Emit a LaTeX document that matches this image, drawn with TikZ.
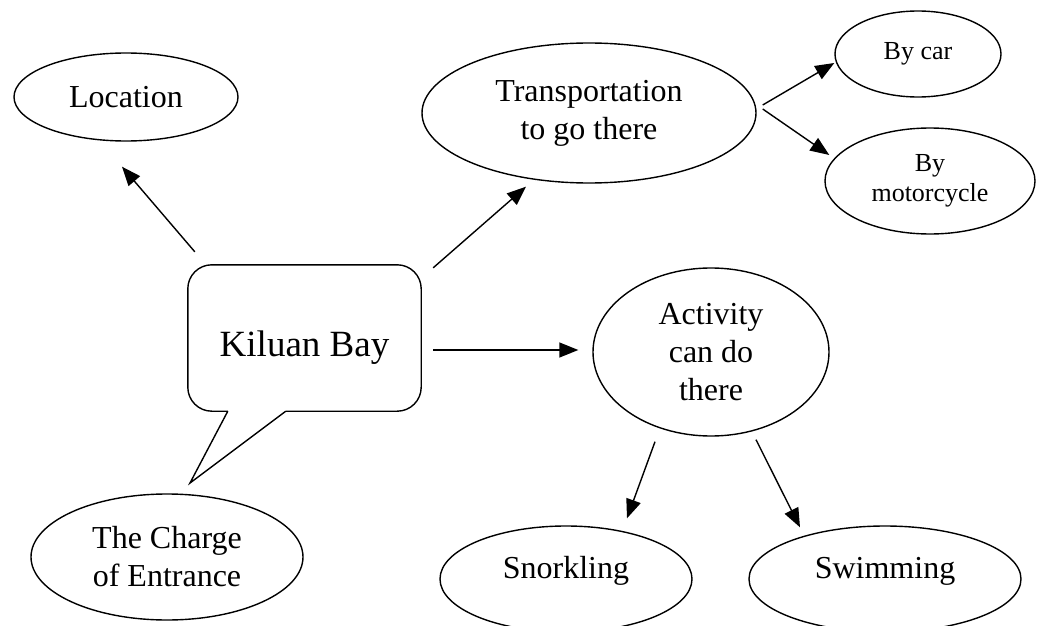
\documentclass[tikz,border=0pt]{standalone}
\usepackage{fontspec}
\setmainfont{Liberation Serif}
\usetikzlibrary{shapes.geometric,arrows.meta}
\begin{document}
\begin{tikzpicture}[x=1pt,y=-1pt,
  bubble/.style={draw, ellipse, line width=1.4pt, inner sep=0pt},
  big/.style={font=\fontsize{32}{38}\selectfont, align=center},
  small/.style={font=\fontsize{26}{30}\selectfont, align=center},
  outline/.style={line width=1.4pt},
  arr/.style={line width=1.4pt, -{Triangle[length=19pt,width=15pt]}}]
\useasboundingbox (0,0) rectangle (1037,626);
\clip (0,0) rectangle (1037,626);

\node[bubble,big,minimum width=224pt,minimum height=88pt] (loc) at (126,97) {Location};
\node[bubble,big,minimum width=334pt,minimum height=140pt] (trans) at (589,113) {Transportation\\to go there};
\node[bubble,small,minimum width=166pt,minimum height=86pt] (car) at (918,54) {By car};
\node[bubble,small,minimum width=210pt,minimum height=106pt] (moto) at (930,181) {By\\motorcycle};
\node[minimum width=233pt,minimum height=146pt,inner sep=0pt,
      label={[font=\fontsize{37}{44}\selectfont,yshift=-10pt]center:Kiluan Bay}] (kb) at (304.5,338) {};
\node[bubble,big,minimum width=236pt,minimum height=168pt] (act) at (711,352) {Activity\\can do\\there};
\node[bubble,big,minimum width=272pt,minimum height=126pt] (chg) at (167,557) {The Charge\\of Entrance};
\node[bubble,minimum width=252pt,minimum height=106pt,
      label={[big,yshift=8pt]center:Snorkling}] (snork) at (566,579) {};
\node[bubble,minimum width=272pt,minimum height=106pt,
      label={[big,yshift=8pt]center:Swimming}] (swim) at (885,579) {};

% speech bubble
\coordinate (tip) at (190,483);
\draw[outline, rounded corners=24pt] ([xshift=98pt]kb.south west) -- (kb.south east) -- (kb.north east)
   -- (kb.north west) -- (kb.south west) -- ([xshift=40pt]kb.south west);
\draw[outline, line join=miter] ([xshift=40pt]kb.south west) -- (tip) -- ([xshift=98pt]kb.south west);

% connectors
\draw[arr] ([shift={(7,-13)}]kb.north west) -- ([shift={(-4,25)}]loc.south);
\draw[arr] ([shift={(12,3)}]kb.north east) -- ([shift={(-63,3)}]trans.south);
\draw[arr] ([shift={(12,12)}]kb.east) -- ([shift={(-14,-2)}]act.west);
\draw[arr] ([shift={(6,-8)}]trans.east) -- ([shift={(0,9)}]car.west);
\draw[arr] ([shift={(6,-4)}]trans.east) -- ([shift={(5,-26)}]moto.west);
\draw[arr] ([shift={(-56,5)}]act.south) -- ([shift={(61,-7)}]snork.north);
\draw[arr] ([shift={(45,3)}]act.south) -- ([shift={(-85,2)}]swim.north);
\end{tikzpicture}
\end{document}
